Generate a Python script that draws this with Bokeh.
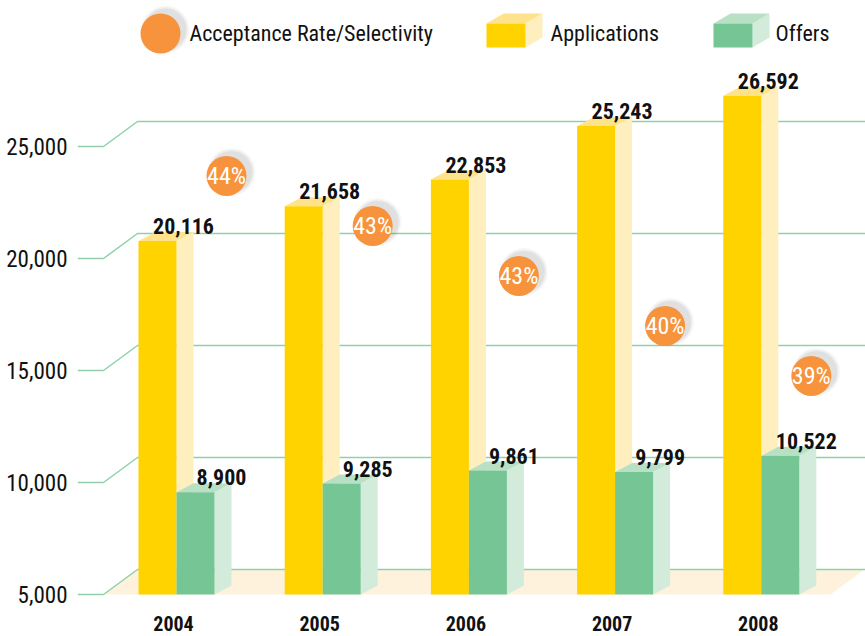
from bokeh.plotting import figure
from bokeh.models import Range1d, FixedTicker, NumeralTickFormatter
from bokeh.core.properties import value
from bokeh.embed import file_html
from bokeh.resources import INLINE

# ---------------- data ----------------
years = ["2004", "2005", "2006", "2007", "2008"]
applications = [20116, 21658, 22853, 25243, 26592]
offers = [8900, 9285, 9861, 9799, 10522]
acceptance = [44, 43, 43, 40, 39]
y_ticks = [5000, 10000, 15000, 20000, 25000]
legend_names = ["Acceptance Rate/Selectivity", "Applications", "Offers"]

# ---------------- layout / style ----------------
W, H = 865, 636
BL = 77                              # left border (px) for the y axis
FW, FH = W - BL, H                   # frame size
PX_PER_CAT = 146.2                   # px per category
KY = 448.0 / 20000.0                 # px per y unit
XS = -(176 - BL) / PX_PER_CAT
XE = XS + FW / PX_PER_CAT
YE = 25000 + 146 / KY
YS = YE - FH / KY

def dx(px):
    return px / PX_PER_CAT

def dy(px):
    return px / KY

def X(px):   # absolute screen px -> data x
    return XS + (px - BL) / PX_PER_CAT

def Y(py):   # absolute screen py -> data y
    return YE - py / KY

FONT = "'Roboto Condensed', Roboto"
BASE = y_ticks[0]
BAR_W = dx(38)
BAR_DX, BAR_DY = dx(17), dy(9)
WALL_DX, WALL_DY = dx(34), dy(25)
STUB = dx(26)
TOP_LIFT = dy(15)

YEL_F, YEL_S, YEL_T = "#FFD300", "#FFEFBE", "#FFE38C"
GRN_F, GRN_S, GRN_T = "#76C595", "#D3EBDA", "#B8E0C5"
ORANGE = "#F7933C"
GRID = "#8ED1A8"
FLOOR = "#FEF2DD"
INK = "#111111"

p = figure(width=W, height=H, output_backend="svg", toolbar_location=None,
           x_range=Range1d(XS, XE), y_range=Range1d(YS, YE),
           min_border_left=BL, min_border_right=0, min_border_top=0,
           min_border_bottom=0)
p.extra_y_ranges = {"stagger": Range1d(start=(FH - 175.4) / 50.0, end=-175.4 / 50.0)}
p.outline_line_color = None
p.xgrid.visible = False
p.ygrid.visible = False
p.xaxis.visible = False
p.background_fill_color = "white"
p.border_fill_color = "white"

# y axis
ya = p.yaxis[0]
ya.ticker = FixedTicker(ticks=y_ticks)
ya.formatter = NumeralTickFormatter(format="0,0")
ya.axis_line_color = None
ya.major_tick_line_color = None
ya.minor_tick_line_color = None
ya.major_label_standoff = 4
ya.major_label_text_font = FONT
ya.major_label_text_font_size = "23px"
ya.major_label_text_color = INK

# floor
fx0 = XS + STUB
p.patch([fx0, fx0 + WALL_DX, X(864), X(830)],
        [BASE, BASE + WALL_DY, BASE + WALL_DY, BASE],
        fill_color=FLOOR, line_color=None)

# gridlines with perspective stubs
gxs, gys = [], []
for t in y_ticks:
    gxs.append([XS, XS + STUB, XS + STUB + WALL_DX, XE])
    gys.append([t, t, t + WALL_DY, t + WALL_DY])
p.multi_line(gxs, gys, line_color=GRID, line_width=1.5)

# 3D bars
def bars(x0s, vals, cf, cs, ct):
    fx, fy, sx, sy, tx, ty = [], [], [], [], [], []
    for x0, v in zip(x0s, vals):
        x1 = x0 + BAR_W
        top = v + TOP_LIFT
        fx.append([x0, x1, x1, x0]); fy.append([BASE, BASE, top, top])
        sx.append([x1, x1 + BAR_DX, x1 + BAR_DX, x1])
        sy.append([BASE, BASE + BAR_DY, top + BAR_DY, top])
        tx.append([x0, x0 + BAR_DX, x1 + BAR_DX, x1])
        ty.append([top, top + BAR_DY, top + BAR_DY, top])
    p.patches(sx, sy, fill_color=cs, line_color=None)
    p.patches(tx, ty, fill_color=ct, line_color=None)
    p.patches(fx, fy, fill_color=cf, line_color=None)

idx = list(range(len(years)))
app_x0 = [i - BAR_W for i in idx]
off_x0 = [i for i in idx]
bars(app_x0, applications, YEL_F, YEL_S, YEL_T)
bars(off_x0, offers, GRN_F, GRN_S, GRN_T)

# category labels
p.text([i - dx(3) for i in idx], [Y(623)] * len(idx), text=years, text_align="center",
       text_baseline="middle", text_font=value(FONT), text_font_size="20px",
       text_font_style="bold", text_color=INK)

# value labels
def vlabels(x0s, vals):
    p.text([x + BAR_W + dx(7) for x in x0s], [v + TOP_LIFT for v in vals],
           text=[f"{v:,}" for v in vals], text_align="center",
           text_baseline="alphabetic", y_offset=-15,
           text_font=value(FONT), text_font_size="22px",
           text_font_style="bold", text_color=INK)

vlabels(app_x0, applications)
vlabels(off_x0, offers)

# acceptance-rate badges with a soft shadow to the upper right
SHADOW = [(48, 0.04), (45, 0.06), (42, 0.09)]
cx = [i + dx(50) for i in idx]
for s, a in SHADOW:
    p.scatter([c + dx(5) for c in cx], [i - 0.08 for i in idx], y_range_name="stagger",
              size=s, fill_color="#555555", fill_alpha=a, line_color=None)
p.scatter(cx, idx, y_range_name="stagger", size=40,
          fill_color=ORANGE, line_color=None)
p.text(cx, idx, y_range_name="stagger", text=[f"{a}%" for a in acceptance],
       text_align="center", text_baseline="middle",
       text_font=value(FONT), text_font_size="24px", text_color="white")

# legend
for s, a in SHADOW:
    p.scatter([X(165)], [Y(29)], size=s, fill_color="#555555", fill_alpha=a, line_color=None)
p.scatter([X(160)], [Y(33)], size=40, fill_color=ORANGE, line_color=None)

def cube(px0, cf, cs, ct):
    x0, x1 = X(px0), X(px0 + 39)
    yb, yt = Y(47), Y(23)
    ddx, ddy = dx(17), dy(10)
    p.patch([x1, x1 + ddx, x1 + ddx, x1], [yb, yb + ddy, yt + ddy, yt], fill_color=cs, line_color=None)
    p.patch([x0, x0 + ddx, x1 + ddx, x1], [yt, yt + ddy, yt + ddy, yt], fill_color=ct, line_color=None)
    p.patch([x0, x1, x1, x0], [yb, yb, yt, yt], fill_color=cf, line_color=None)

cube(486, YEL_F, YEL_S, YEL_T)
cube(713, GRN_F, GRN_S, GRN_T)

p.text([X(189), X(550), X(775)], [Y(33)] * 3, text=legend_names,
       text_align="left", text_baseline="middle",
       text_font=value(FONT), text_font_size="22px", text_color=INK)

open("out.html", "w").write(file_html(p, INLINE))
